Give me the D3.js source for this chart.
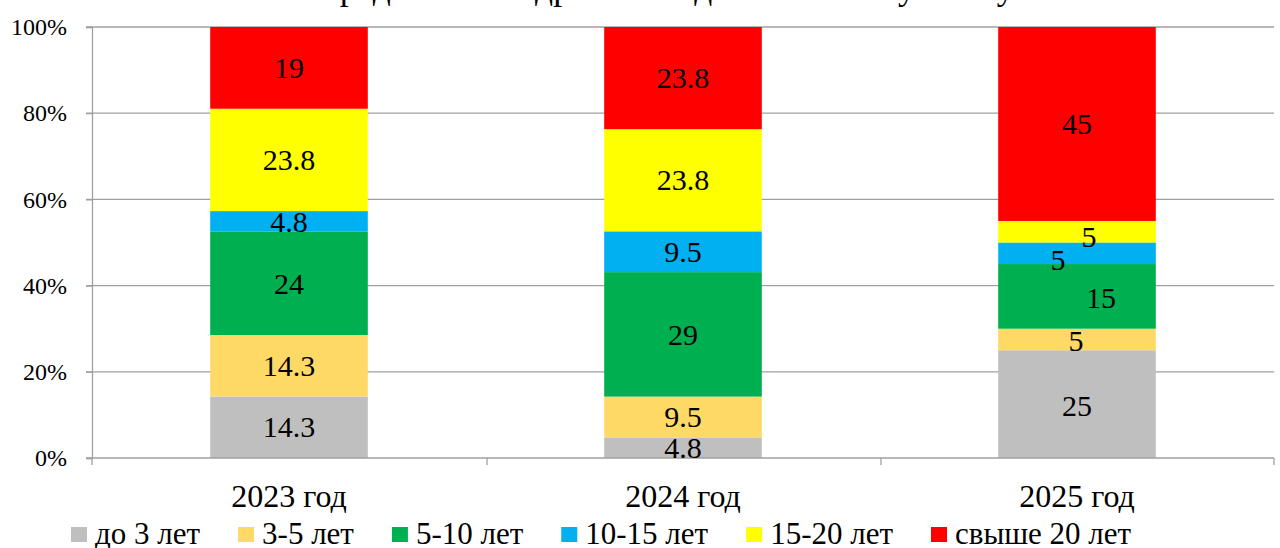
<!DOCTYPE html>
<html>
<head>
<meta charset="utf-8">
<script src="https://cdn.jsdelivr.net/npm/d3@7"></script>
<style>
  body { margin: 0; background: #fff; }
</style>
</head>
<body>
<div id="chart"></div>
<script>
// Размеры
const width = 1280;
const height = 548;
const serif = '"Liberation Serif"';

// Данные
const title = "Распределение кадров по педагогическому стажу";
const years = ["2023 год", "2024 год", "2025 год"];
const groups = ["до 3 лет", "3-5 лет", "5-10 лет", "10-15 лет", "15-20 лет", "свыше 20 лет"];
const colors = ["#BFBFBF", "#FFD966", "#00B050", "#00B0F0", "#FFFF00", "#FF0000"];
const upTo3 = [14.3, 4.8, 25];
const from3to5 = [14.3, 9.5, 5];
const from5to10 = [24, 29, 15];
const from10to15 = [4.8, 9.5, 5];
const from15to20 = [23.8, 23.8, 5];
const over20 = [19, 23.8, 45];
const yTicks = [0, 0.2, 0.4, 0.6, 0.8, 1];

// Сдвиги подписей для 2025 года (подписи смещены вручную)
const nudge2025 = [[0, 2], [-1, 1.5], [24, 1.5], [-19, 7], [12, 5], [0, 0]];

const series = [upTo3, from3to5, from5to10, from10to15, from15to20, over20];
const table = years.map((y, i) => {
  const row = { year: y };
  groups.forEach((g, k) => row[g] = series[k][i]);
  return row;
});

const stack = d3.stack().keys(groups).offset(d3.stackOffsetExpand);
const stacked = stack(table);

// Шкалы
const x = d3.scaleBand().domain(years).range([92, 1274]);
const y = d3.scaleLinear().domain([0, 1]).range([458, 27]);
const barW = x.bandwidth() * 0.4;

const svg = d3.select("#chart").append("svg")
  .attr("width", width)
  .attr("height", height);

// Заголовок (обрезан сверху), ширина подогнана под ~745px
const titleText = svg.append("text")
  .attr("x", 642)
  .attr("y", -1)
  .attr("text-anchor", "middle")
  .style("font-family", serif)
  .style("font-size", "32px")
  .text(title);
const tLen = titleText.node().getComputedTextLength();
titleText.style("font-size", (32 * 745 / tLen) + "px");

// Сетка
svg.append("g")
  .selectAll("line")
  .data(yTicks.slice(1))
  .join("line")
  .attr("x1", 86).attr("x2", 1274)
  .attr("y1", d => y(d)).attr("y2", d => y(d))
  .attr("stroke", "#A0A0A0")
  .attr("stroke-width", 1.3);

// Ось Y
const yAxis = svg.append("g")
  .attr("transform", "translate(92,0)")
  .call(d3.axisLeft(y).tickValues(yTicks).tickFormat(d3.format(".0%")).tickSize(6).tickPadding(19));
yAxis.selectAll("text")
  .style("font-family", serif)
  .style("font-size", "24px")
  .attr("fill", "#000");
yAxis.selectAll("line, path").attr("stroke", "#A0A0A0").attr("stroke-width", 1.3);

// Столбцы
const layer = svg.append("g")
  .selectAll("g")
  .data(stacked)
  .join("g")
  .attr("fill", (d, i) => colors[i]);

layer.selectAll("rect")
  .data(d => d)
  .join("rect")
  .attr("x", d => x(d.data.year) + (x.bandwidth() - barW) / 2)
  .attr("width", barW)
  .attr("y", d => y(d[1]))
  .attr("height", d => y(d[0]) - y(d[1]));

// Ось X
const xAxis = svg.append("g")
  .attr("transform", "translate(0,458)")
  .call(d3.axisBottom(x).tickSize(0).tickPadding(26));
xAxis.select("path").attr("stroke", "#A0A0A0").attr("stroke-width", 1.3).attr("d", "M86,0H1274");
xAxis.selectAll("text")
  .style("font-family", serif)
  .style("font-size", "32px")
  .attr("fill", "#000");
xAxis.append("g")
  .selectAll("line")
  .data([92, 487, 881, 1274])
  .join("line")
  .attr("x1", d => d).attr("x2", d => d)
  .attr("y1", 0).attr("y2", 7)
  .attr("stroke", "#A0A0A0").attr("stroke-width", 1.3);

// Подписи данных
stacked.forEach((s, k) => {
  svg.append("g")
    .selectAll("text")
    .data(s)
    .join("text")
    .attr("x", (d, i) => x(d.data.year) + x.bandwidth() / 2 + (i === 2 ? nudge2025[k][0] : 0))
    .attr("y", (d, i) => (y(d[0]) + y(d[1])) / 2 + (i === 2 ? nudge2025[k][1] : 0))
    .attr("dy", "0.34em")
    .attr("text-anchor", "middle")
    .style("font-family", serif)
    .style("font-size", "30px")
    .text((d, i) => series[k][i]);
});

// Легенда
const legend = svg.append("g").attr("transform", "translate(71,0)");
let lx = 0;
groups.forEach((g, i) => {
  const item = legend.append("g").attr("transform", `translate(${lx},0)`);
  item.append("rect")
    .attr("x", 0).attr("y", 527)
    .attr("width", 16).attr("height", 15)
    .attr("fill", colors[i]);
  const t = item.append("text")
    .attr("x", 24).attr("y", 544)
    .style("font-family", serif)
    .style("font-size", "31px")
    .text(g);
  lx += 24 + t.node().getComputedTextLength() + 38;
});
</script>
</body>
</html>
